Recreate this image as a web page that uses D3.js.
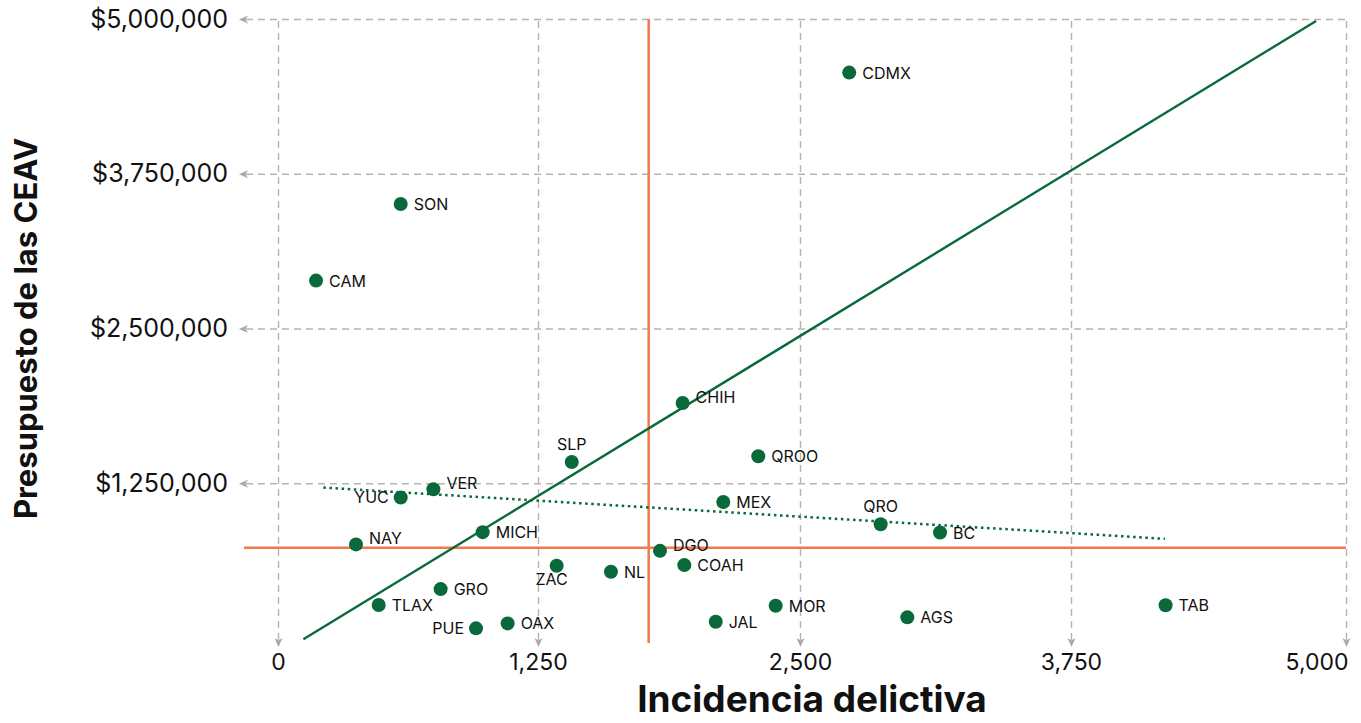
<!DOCTYPE html>
<html>
<head>
<meta charset="utf-8">
<script src="https://cdn.jsdelivr.net/npm/d3@7"></script>
<style>
    body { margin: 0; background: #fff; }
    svg { display: block; font-family: Inter, "Noto Sans", sans-serif; }
</style>
</head>
<body>
<svg id="chart" width="1361" height="723"></svg>
<script>
// values
var states = ["CDMX", "SON", "CAM", "SLP", "VER", "YUC", "MICH", "NAY", "ZAC", "NL", "GRO", "TLAX", "PUE",
    "OAX", "DGO", "CHIH", "QROO", "MEX", "QRO", "BC", "COAH", "MOR", "JAL", "AGS", "TAB"];
var incidencia = [2727, 590, 183, 1411, 747, 590, 984, 375, 1339, 1598, 782, 484, 952,
    1104, 1832, 1940, 2301, 2134, 2872, 3146, 1948, 2384, 2098, 2995, 4180];
var presupuesto = [4567000, 3506000, 2887000, 1422000, 1202000, 1135000, 855000, 756000, 583000, 535000, 395000, 266000, 78000,
    118000, 704000, 1898000, 1468000, 1099000, 919000, 852000, 589000, 260000, 131000, 167000, 264000];

var xTicks = [0, 1250, 2500, 3750, 5000];
var yTicks = [1250000, 2500000, 3750000, 5000000];

// reference lines (orange) and the two fitted lines
var refX = 1778, refY = 728000;
var trendX = [122, 4864], trendY = [-10000, 4984000];
var dottedX = [218, 4177], dottedY = [1215000, 801000];

// where a label goes relative to its dot, default is to the right
var labelPlace = {"SLP": "above", "QRO": "above", "YUC": "left", "PUE": "left", "ZAC": "below",
    "VER": "upright", "DGO": "upright", "NAY": "upright", "CHIH": "upright"};

function draw() {
    var canvas = d3.select("#chart"),
        width = 1361, height = 723,
        margins = {"left": 278, "right": 15, "top": 19, "bottom": 85},
        green = "#09693a", orange = "#ef7a4a", grid = "#b4b4b4";

    var right = width - margins.right, bottom = height - margins.bottom;
    var data = states.map((s, i) => ({name: s, x: incidencia[i], y: presupuesto[i]}));

    // the picture's x grid is not evenly spaced, so the scale is piecewise
    var x = d3.scaleLinear().domain(xTicks).range([margins.left, 538, 800, 1071, right]),
        y = d3.scaleLinear().domain([0, 5000000]).range([bottom, margins.top]);

    var defs = canvas.append("defs");
    defs.append("marker").attr("id", "arrow")
        .attr("viewBox", "0 0 10 10").attr("refX", 2).attr("refY", 5)
        .attr("markerWidth", 10).attr("markerHeight", 10).attr("markerUnits", "userSpaceOnUse")
        .attr("orient", "auto-start-reverse")
        .append("path").attr("d", "M0,1 L9,5 L0,9 L2.5,5 Z").attr("fill", "#a8a8a8");

    var yAxisX = 246, xAxisY = 640;

    var ya = canvas.append("g").classed("yaxis", true)
        .attr("transform", "translate(" + [yAxisX, 0] + ")")
        .call(d3.axisLeft(y).tickValues(yTicks).tickSize(-(right - yAxisX)).tickPadding(18)
            .tickFormat(d => "$" + d3.format(",")(d)));

    var xa = canvas.append("g").classed("xaxis", true)
        .attr("transform", "translate(" + [0, xAxisY] + ")")
        .call(d3.axisBottom(x).tickValues(xTicks).tickSize(-(xAxisY - margins.top)).tickPadding(14)
            .tickFormat(d3.format(",")));

    canvas.selectAll(".xaxis .domain, .yaxis .domain").remove();
    canvas.selectAll(".xaxis line, .yaxis line")
        .attr("stroke", grid).attr("stroke-width", 1.4).attr("stroke-dasharray", "7,5")
        .attr("marker-start", "url(#arrow)");
    canvas.selectAll(".xaxis text, .yaxis text")
        .attr("fill", "#111").style("font-family", "Inter");
    xa.selectAll("text").style("font-size", "23px");
    ya.selectAll("text").style("font-size", "25px");
    xa.selectAll(".tick").filter(d => d === 5000).select("text")
        .attr("text-anchor", "end").attr("x", 2);

    // reference lines
    canvas.append("line")
        .attr("x1", yAxisX - 2).attr("x2", right).attr("y1", y(refY)).attr("y2", y(refY))
        .attr("stroke", orange).attr("stroke-width", 2.5);
    canvas.append("line")
        .attr("x1", x(refX)).attr("x2", x(refX)).attr("y1", margins.top).attr("y2", xAxisY + 3)
        .attr("stroke", orange).attr("stroke-width", 2.5);

    var line = d3.line().x(d => x(d[0])).y(d => y(d[1]));

    canvas.append("path").datum(trendX.map((v, i) => [v, trendY[i]]))
        .attr("d", line).attr("fill", "none").attr("stroke", green).attr("stroke-width", 2.4);

    canvas.append("path").datum(dottedX.map((v, i) => [v, dottedY[i]]))
        .attr("d", line).attr("fill", "none").attr("stroke", green)
        .attr("stroke-width", 2.5).attr("stroke-dasharray", "2.5,3.6");

    // points
    canvas.append("g").selectAll("circle").data(data).enter()
        .append("circle")
        .attr("cx", d => x(d.x)).attr("cy", d => y(d.y))
        .attr("r", 7).attr("fill", green);

    var labels = canvas.append("g").selectAll("text").data(data).enter()
        .append("text").text(d => d.name)
        .attr("fill", "#111").style("font-size", "16px")
        .attr("dominant-baseline", "central");

    labels.each(function(d) {
        var t = d3.select(this), cx = x(d.x), cy = y(d.y), p = labelPlace[d.name];
        if(p === "above") { t.attr("x", cx).attr("y", cy - 18).attr("text-anchor", "middle"); }
        else if(p === "below") { t.attr("x", cx - 5).attr("y", cy + 13).attr("text-anchor", "middle"); }
        else if(p === "left") { t.attr("x", cx - 12).attr("y", cy).attr("text-anchor", "end"); }
        else if(p === "upright") { t.attr("x", cx + 13).attr("y", cy - 6); }
        else { t.attr("x", cx + 13).attr("y", cy); }
    });

    // axis titles
    canvas.append("text")
        .attr("x", (margins.left + right) / 2).attr("y", 712)
        .attr("text-anchor", "middle").style("font-size", "37px").style("font-weight", "bold")
        .attr("fill", "#111").text("Incidencia delictiva");

    canvas.append("text")
        .attr("transform", "translate(" + [37, (margins.top + bottom) / 2] + ") rotate(-90)")
        .attr("text-anchor", "middle").style("font-size", "31px").style("font-weight", "bold")
        .attr("fill", "#111").text("Presupuesto de las CEAV");
}

draw();
</script>
</body>
</html>
